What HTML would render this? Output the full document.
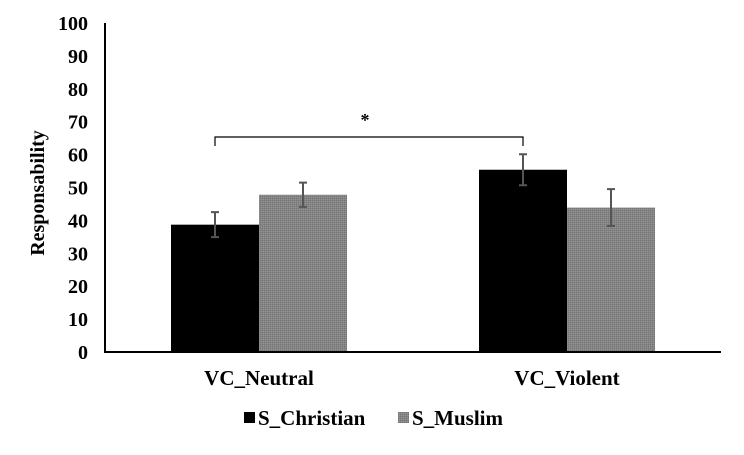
<!DOCTYPE html>
<html><head><meta charset="utf-8"><style>
body{margin:0;background:#fff;}
svg text{font-family:"Liberation Serif",serif;font-weight:bold;fill:#000;}
</style></head><body>
<svg id="c" width="744" height="450" xmlns="http://www.w3.org/2000/svg">
<defs>
<pattern id="grayPat" width="2" height="2" patternUnits="userSpaceOnUse">
<rect width="2" height="2" fill="#858585"/><rect width="1" height="1" fill="#747474"/><rect x="1" y="1" width="1" height="1" fill="#929292"/>
</pattern>
</defs>
<g id="marks"></g>
</svg>
<script>
const categories = ["VC_Neutral", "VC_Violent"];
const seriesNames = ["S_Christian", "S_Muslim"];
const christian = [38.7, 55.4];
const muslim = [47.8, 43.9];
const christianErr = [3.8, 4.7];
const muslimErr = [3.7, 5.6];
const yTicks = [0,10,20,30,40,50,60,70,80,90,100];

const svg = document.getElementById('c');
const g = document.getElementById('marks');
const NS = 'http://www.w3.org/2000/svg';
const x0 = 105, x1 = 721, yBase = 352, yTop = 23;
const y = v => yBase - (v/100)*(yBase-yTop);
const groupW = (x1-x0)/categories.length;
const barW = 88;
const groupCenter = i => x0 + groupW*(i+0.5);
function el(tag, attrs){const e=document.createElementNS(NS,tag);for(const k in attrs)e.setAttribute(k,attrs[k]);g.appendChild(e);return e;}

yTicks.forEach(t=>{
  const e = el('text',{x:x0-17,y:y(t)+7,'text-anchor':'end','font-size':'20'});
  e.textContent = t;
  
  
});
const series = [christian, muslim];
const errs = [christianErr, muslimErr];
const fills = ['#000','url(#grayPat)'];
categories.forEach((c,i)=>{
  series.forEach((s,j)=>{
    const bx = groupCenter(i) - barW + j*barW;
    const r = el('rect',{x:bx,y:y(s[i]),width:barW,height:yBase-y(s[i]),fill:fills[j]});
    
    
    const cx = bx + barW/2;
    const hi = y(s[i]+errs[j][i]), lo = y(s[i]-errs[j][i]);
    const eb = el('path',{d:`M${cx} ${hi}V${lo}M${cx-4} ${hi}H${cx+4}M${cx-4} ${lo}H${cx+4}`,stroke:'#555','stroke-width':'2',fill:'none'});
    
    
  });
  const t = el('text',{x:groupCenter(i),y:385,'text-anchor':'middle','font-size':'21'});
  t.textContent = c;
  
  
});
const ax = el('path',{d:`M${x0} ${yTop}V${yBase}H${x1}`,stroke:'#000','stroke-width':'2',fill:'none'});


const bxL = groupCenter(0)-barW/2, bxR = groupCenter(1)-barW/2;
const br = el('path',{d:`M${bxL} 146V137H${bxR}V146`,stroke:'#000','stroke-width':'1.2',fill:'none'});


const star = el('text',{x:365,y:126,'text-anchor':'middle','font-size':'18','font-weight':'normal'});
star.textContent='*';


const yt = el('text',{x:0,y:0,'text-anchor':'middle','font-size':'20',transform:'translate(44,193) rotate(-90)'});
yt.textContent='Responsability';


const lx = [244, 398];
seriesNames.forEach((n,j)=>{
  const r = el('rect',{x:lx[j],y:412,width:11,height:11,fill:fills[j]});
  
  
  const t = el('text',{x:lx[j]+14,y:425,'font-size':'21'});
  t.textContent=n;
  
  
});
</script>
</body></html>
